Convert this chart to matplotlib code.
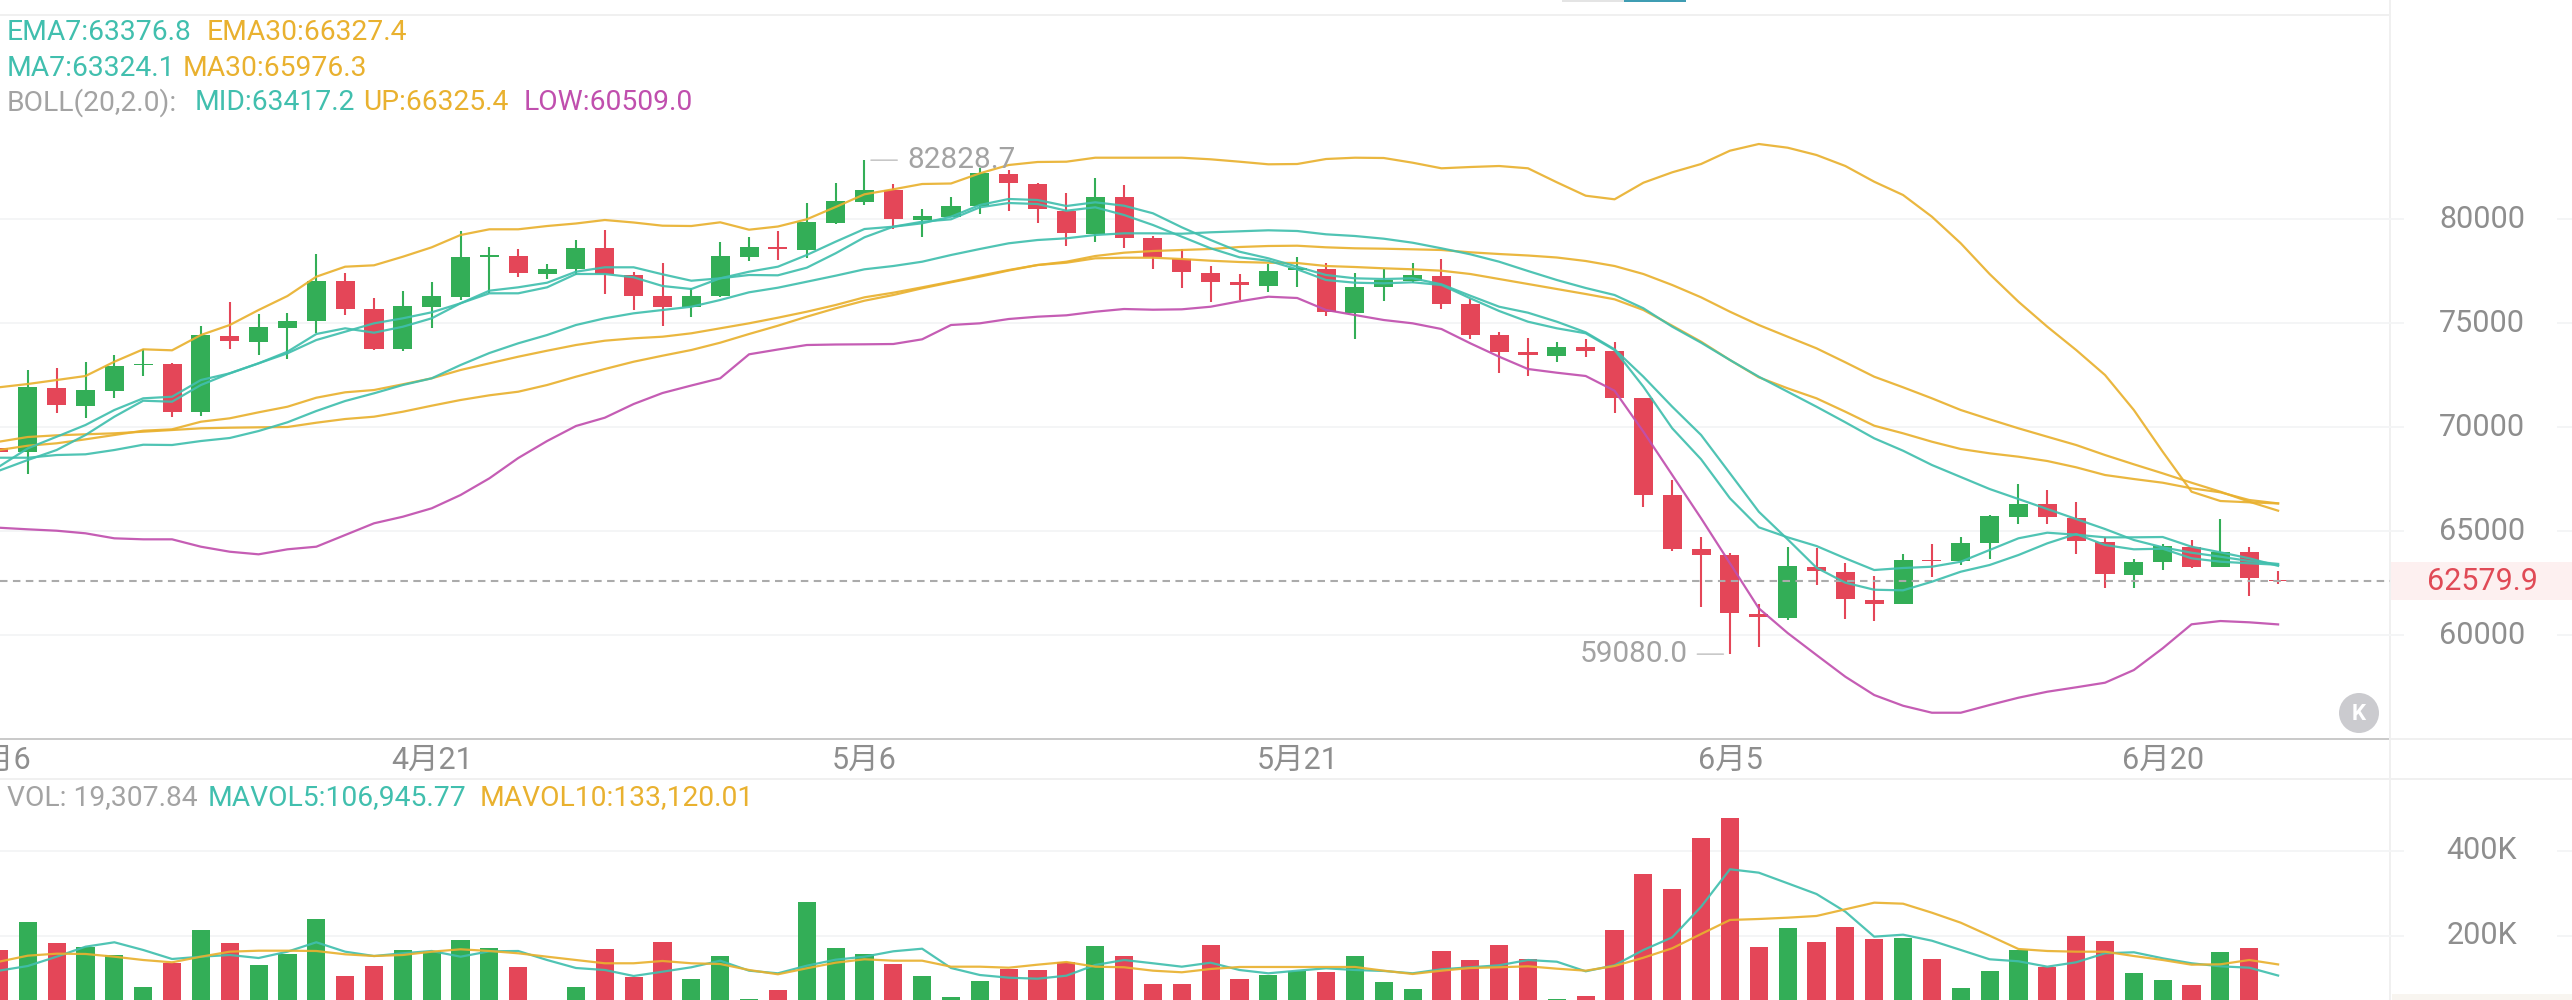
import matplotlib
matplotlib.use("Agg")
import matplotlib.pyplot as plt
from matplotlib.lines import Line2D
from matplotlib.patches import Rectangle, Circle

W, H = 2572, 1000

plt.rcParams["font.family"] = ["Roboto", "Noto Sans CJK SC", "DejaVu Sans"]

date_pos = [0, 15, 30, 45, 60, 75]
date_labels = ["4月6", "4月21", "5月6", "5月21", "6月5", "6月20"]

price_ticks = [80000, 75000, 70000, 65000, 60000]
volume_ticks = [400000, 200000]
volume_tick_labels = ["400K", "200K"]

last_price = 62579.9
high_price = 82828.7
low_price = 59080.0

opens = [68990, 68810, 71890, 71024, 71730, 72966, 73014, 70706, 74375, 74101,
         74774, 75110, 77019, 75658, 73735, 75783, 76264, 78173, 78221, 77370,
         77582, 78606, 77322, 76298, 75755, 76312, 78187, 78639, 78510, 79822,
         80841, 81380, 79952, 80111, 80625, 82164, 81683, 80385, 79293, 81043,
         79072, 78062, 77418, 76957, 76793, 77548, 77582, 75495, 76716, 77034,
         77260, 75899, 74408, 73591, 73428, 73860, 73654, 71380, 66730, 64120,
         63845, 61000, 60831, 63283, 63043, 61682, 61475, 63620, 63543, 64408,
         65687, 66283, 65625, 64456, 62899, 63510, 64245, 63283, 63975, 62650]
closes = [68800, 71910, 71057, 71778, 72932, 73053, 70721, 74408, 74120, 74793,
          75110, 77033, 75673, 73750, 75817, 76298, 78159, 78269, 77418, 77596,
          78620, 77356, 76312, 75769, 76312, 78207, 78668, 78543, 79841, 80880,
          81394, 79986, 80159, 80639, 82197, 81716, 80466, 79312, 81058, 79087,
          78159, 77452, 76971, 76812, 77514, 77630, 75529, 76731, 77067, 77293,
          75928, 74437, 73606, 73447, 73860, 73668, 71408, 66745, 64134, 63860,
          61043, 60865, 63317, 63062, 61716, 61505, 63605, 63557, 64423, 65721,
          66283, 65658, 64505, 62947, 63510, 64264, 63283, 63990, 62725, 62579.9]
highs = [69300, 72740, 72850, 73125, 73447, 73764, 73091, 74855, 76009, 75418,
         75495, 78303, 77389, 76187, 76538, 76985, 79437, 78639, 78543, 77836,
         78990, 79457, 77437, 77870, 76668, 78880, 79135, 79423, 80755, 81731,
         82828.7, 81668, 80466, 81043, 82438, 82356, 81745, 81264, 81986, 81620,
         79183, 78543, 77740, 77370, 77822, 78159, 77870, 77418, 77582, 77870,
         78077, 76154, 74567, 74293, 74101, 74230, 74072, 71380, 67452, 64725,
         63927, 61490, 64216, 64168, 63475, 62836, 63893, 64360, 64725, 65769,
         67259, 66956, 66408, 64725, 63639, 64360, 64567, 65576, 64216, 63060]
lows = [68500, 67725, 70687, 70447, 71394, 72466, 70466, 70528, 73764, 73461,
        73269, 74505, 75384, 73702, 73668, 74774, 76106, 76428, 77226, 77115,
        77308, 76408, 75639, 74870, 75288, 76264, 77995, 78029, 78139, 79774,
        80659, 79505, 79149, 80082, 80240, 80399, 79822, 78716, 78880, 78620,
        77610, 76683, 76024, 76106, 76505, 76716, 75336, 74216, 76072, 76937,
        75658, 74230, 72596, 72452, 73139, 73351, 70658, 66168, 64053, 61360,
        59080, 59437, 60720, 62404, 60768, 60687, 61475, 62802, 63380, 63668,
        65336, 65336, 63894, 62245, 62245, 63139, 63235, 63283, 61889, 62437]

boll_up = [71909, 72067, 72259, 72452, 73139, 73735, 73687, 74423, 74904, 75625,
           76298, 77226, 77707, 77774, 78187, 78639, 79231, 79505, 79505, 79663,
           79784, 79952, 79832, 79678, 79663, 79841, 79486, 79639, 79986, 80577,
           81188, 81428, 81683, 81707, 82197, 82596, 82741, 82755, 82947, 82947,
           82947, 82947, 82870, 82755, 82630, 82644, 82885, 82947, 82933, 82707,
           82438, 82500, 82548, 82438, 81764, 81120, 80947, 81745, 82245, 82644,
           83284, 83606, 83428, 83077, 82548, 81793, 81154, 80111, 78832, 77356,
           76024, 74822, 73702, 72500, 70817, 68812, 66889, 66442, 66379, 66325.4]
boll_mid = [68523, 68523, 68653, 68687, 68894, 69148, 69134, 69326, 69471, 69807,
            70226, 70769, 71250, 71620, 72019, 72341, 72980, 73557, 74024, 74423,
            74904, 75226, 75466, 75625, 75783, 76106, 76476, 76697, 76985, 77274,
            77582, 77740, 77947, 78269, 78558, 78832, 78990, 79072, 79231, 79312,
            79312, 79293, 79361, 79409, 79457, 79423, 79264, 79183, 79053, 78860,
            78591, 78303, 77947, 77500, 77067, 76683, 76346, 75707, 74822, 74053,
            73221, 72418, 71697, 70975, 70226, 69456, 68860, 68173, 67596, 67019,
            66538, 66057, 65576, 65096, 64567, 64216, 63956, 63764, 63557, 63417.2]
boll_low = [65158, 65081, 65014, 64889, 64648, 64600, 64600, 64245, 64004, 63879,
            64120, 64245, 64807, 65370, 65687, 66091, 66730, 67533, 68509, 69326,
            70048, 70447, 71105, 71634, 71995, 72341, 73495, 73726, 73942, 73966,
            73976, 73990, 74216, 74904, 74985, 75192, 75303, 75370, 75543, 75673,
            75639, 75658, 75783, 76043, 76264, 76202, 75625, 75384, 75144, 74985,
            74711, 74024, 73380, 72788, 72610, 72452, 71745, 69774, 67692, 65610,
            63447, 61283, 60095, 59038, 57994, 57114, 56599, 56263, 56263, 56634,
            56985, 57273, 57485, 57706, 58316, 59360, 60514, 60672, 60610, 60509.0]
ma7 = [67898, 68413, 68894, 69615, 70495, 71264, 71216, 72019, 72581, 73062,
       73620, 74471, 74745, 74533, 74822, 75226, 75947, 76428, 76428, 76716,
       77356, 77356, 77197, 76779, 76634, 77149, 77308, 77293, 77659, 78351,
       79120, 79630, 79870, 79986, 80562, 80769, 80721, 80399, 80562, 80192,
       79712, 79149, 78591, 78159, 77995, 77582, 77067, 76937, 76908, 76957,
       76827, 76187, 75577, 75062, 74745, 74505, 73702, 71937, 69937, 68447,
       66572, 65178, 64696, 64278, 63687, 63124, 63221, 63283, 63524, 64086,
       64649, 64918, 64822, 64696, 64696, 64711, 64245, 63976, 63687, 63324.1]
ema7 = [68091, 68975, 69533, 70096, 70817, 71379, 71456, 72259, 72581, 73062,
        73543, 74182, 74581, 74985, 75226, 75514, 75947, 76553, 76716, 76937,
        77466, 77678, 77678, 77341, 77033, 77149, 77466, 77707, 78269, 78909,
        79519, 79630, 79793, 80111, 80673, 80962, 80914, 80625, 80803, 80639,
        80274, 79601, 78990, 78428, 78110, 77707, 77308, 77149, 77115, 77149,
        76860, 76312, 75783, 75495, 75062, 74553, 73735, 72418, 70975, 69615,
        67773, 65927, 64600, 63235, 62514, 62177, 62148, 62562, 63043, 63365,
        63845, 64408, 64855, 64326, 64120, 64149, 63687, 63524, 63447, 63376.8]
ma30 = [69293, 69519, 69600, 69649, 69697, 69774, 69855, 69937, 69966, 69985,
        70000, 70206, 70384, 70495, 70735, 71024, 71298, 71524, 71697, 72019,
        72418, 72788, 73139, 73428, 73702, 74053, 74471, 74870, 75303, 75707,
        76072, 76346, 76668, 76957, 77226, 77524, 77788, 77947, 78221, 78380,
        78461, 78510, 78558, 78654, 78702, 78716, 78639, 78591, 78572, 78543,
        78510, 78399, 78317, 78245, 78149, 77981, 77740, 77356, 76827, 76235,
        75543, 74904, 74341, 73783, 73110, 72418, 71909, 71379, 70817, 70370,
        69937, 69533, 69134, 68653, 68206, 67773, 67321, 66889, 66408, 65976.3]
ema30 = [68894, 69100, 69216, 69408, 69615, 69822, 69889, 70254, 70418, 70706,
         70975, 71408, 71668, 71778, 72053, 72341, 72740, 73062, 73380, 73668,
         73942, 74149, 74264, 74341, 74505, 74745, 74985, 75255, 75543, 75865,
         76235, 76457, 76716, 76985, 77274, 77548, 77788, 77899, 78110, 78139,
         78139, 78077, 77995, 77933, 77899, 77884, 77740, 77692, 77630, 77582,
         77514, 77356, 77115, 76875, 76634, 76394, 76139, 75625, 74870, 74101,
         73221, 72389, 71860, 71379, 70735, 70062, 69697, 69293, 68942, 68735,
         68572, 68365, 68062, 67692, 67499, 67321, 67052, 66860, 66490, 66327.4]

volumes = [167100, 232900, 183500, 174800, 156000, 80000, 135800, 213400, 183500, 131000,
           158400, 239300, 105900, 129400, 166400, 164700, 190600, 171800, 127800, 37600,
           80000, 169400, 104200, 186600, 99500, 152900, 51000, 72200, 280000, 171100,
           157600, 134100, 106600, 56500, 94800, 122400, 120700, 138800, 175800, 153700,
           86400, 86400, 178100, 98800, 108200, 116900, 116000, 152900, 91100, 76000,
           164700, 144200, 178800, 145900, 52500, 58100, 213400, 345900, 310600, 430600,
           477700, 174100, 218100, 185200, 221200, 192900, 194600, 145900, 76900, 116900,
           167100, 127800, 199300, 187500, 112200, 96600, 84700, 162400, 172500, 19307.84]
mavol5 = [118350, 129400, 151300, 174800, 185200, 167100, 145900, 151300, 155300, 148200,
          163100, 185200, 163100, 152900, 159300, 164700, 151300, 164000, 164700, 143500,
          124700, 120000, 105900, 116000, 126400, 141900, 118400, 112200, 130100, 144200,
          151300, 164000, 170100, 124700, 108200, 101900, 99500, 106600, 131800, 143500,
          135800, 127800, 137200, 120000, 112200, 118400, 124000, 120000, 117700, 112200,
          121700, 126400, 131100, 143500, 139500, 116900, 131100, 167100, 196900, 268900,
          357000, 349000, 324000, 298800, 257200, 198400, 203100, 188900, 167100, 145200,
          140500, 127800, 138100, 159300, 161700, 147500, 135800, 128700, 125400, 106945.77]
mavol10 = [139500, 153700, 158400, 157700, 151300, 143500, 138100, 151300, 163100, 165400,
           165400, 164700, 156900, 152900, 155300, 163100, 168700, 164700, 159300, 151300,
           143500, 135800, 135800, 141200, 135800, 134100, 120000, 109900, 124000, 137200,
           145200, 141900, 141900, 127800, 127800, 125400, 132500, 138800, 127800, 126400,
           118400, 114600, 122400, 127100, 127100, 127100, 127100, 127100, 118400, 110600,
           118400, 124700, 126400, 128700, 123100, 118400, 129400, 148900, 171100, 204700,
           237700, 240000, 243100, 247100, 262800, 278400, 276000, 254800, 231300, 200700,
           169400, 164700, 163100, 163100, 152900, 143500, 132500, 133400, 143500, 133120.01]

GREEN = "#33ae57"
RED = "#e44658"
TEAL = "#41bfae"
GOLD = "#e9b12f"
PURPLE = "#c04fae"
GRAY = "#a3a3a3"
AXIS_GRAY = "#8e8e8e"
GRID = "#f4f5f6"
SEP = "#f0f0f0"
FS = 20.3
MARK_FS = 21.4
TICK_FS = 22
LINE_W = 1.6

fig = plt.figure(figsize=(W / 100, H / 100), dpi=100, facecolor="white")


def px(x, y):
    return x / W, 1 - y / H


def sheet_text(x, y, s, color, size=FS, ha="left"):
    fig.text(*px(x, y), s, color=color, fontsize=size, ha=ha, va="center")


def sheet_line(x0, y0, x1, y1, color, lw=1.4):
    a = px(x0, y0)
    b = px(x1, y1)
    fig.add_artist(Line2D([a[0], b[0]], [a[1], b[1]], color=color, lw=lw,
                          transform=fig.transFigure, zorder=0))


def sheet_box(x0, y0, x1, y1, color):
    fig.add_artist(Rectangle(px(x0, y1), (x1 - x0) / W, (y1 - y0) / H, color=color,
                             lw=0, transform=fig.transFigure, zorder=0))


# candle index 0 sits just left of the sheet, slots are 28.85 px wide
xlim = (1.05 / 28.85, (W + 1.05) / 28.85)
xs = list(range(len(opens)))

ax = fig.add_axes([0, (H - 739) / H, 1, 724 / H])
ax.set_xlim(*xlim)
ax.set_ylim(55000, 89808)
ax.axis("off")

vol = fig.add_axes([0, 0, 1, 221 / H])
vol.set_xlim(*xlim)
vol.set_ylim(49400, 569400)
vol.axis("off")

# panel frame and the pink band behind the last price
sheet_line(0, 15, 2390, 15, SEP)
sheet_line(0, 739, 2390, 739, "#c9c9c9")
sheet_line(2390, 739, W, 739, SEP)
sheet_line(0, 779, W, 779, SEP)
sheet_line(2390, 0, 2390, H, SEP)
sheet_box(2392, 994, W, H, "#f8f5f0")
sheet_box(2391, 562, W, 600, "#fdf0f0")
sheet_box(1562, 0, 1624, 2, "#e4e4e4")
sheet_box(1624, 0, 1686, 2, "#3f9db3")

# horizontal grid, broken around the tick labels on the right
for a, ticks in ((ax, price_ticks), (vol, volume_ticks)):
    tr = a.get_yaxis_transform()
    for v in ticks:
        a.plot([0, 2403 / W], [v, v], color=GRID, lw=1.4, transform=tr, zorder=1)
        a.plot([2558 / W, 1], [v, v], color=GRID, lw=1.4, transform=tr, zorder=1)

# candles
colors = [GREEN if c >= o else RED for o, c in zip(opens, closes)]
ax.vlines(xs, lows, highs, colors=colors, lw=1.5, zorder=2)
ax.bar(xs, [abs(c - o) for o, c in zip(opens, closes)],
       bottom=[min(o, c) for o, c in zip(opens, closes)],
       width=0.66, color=colors, lw=0, zorder=3)

ax.plot([0, 2390 / W], [last_price, last_price], color="#ababab", lw=1.5,
        dashes=(3.6, 2.6), transform=ax.get_yaxis_transform(), zorder=4)

# indicator lines
for series, col in ((boll_up, GOLD), (ma30, GOLD), (ema30, GOLD),
                    (boll_mid, TEAL), (ma7, TEAL), (ema7, TEAL), (boll_low, PURPLE)):
    ax.plot(xs, series, color=col, lw=LINE_W, alpha=0.92, zorder=5)

# extreme price markers
ax.annotate(f"{high_price:.1f}", xy=(30, high_price), xytext=(30.6, 0),
            textcoords="offset points", color=GRAY, fontsize=MARK_FS, va="center", ha="left",
            zorder=6, arrowprops=dict(arrowstyle="-", color="#c4c4c4", lw=1.1,
                                      relpos=(0, 0.5), shrinkA=5, shrinkB=4.7))
ax.annotate(f"{low_price:.1f}", xy=(60, low_price), xytext=(-30.5, 0),
            textcoords="offset points", color=GRAY, fontsize=MARK_FS, va="center", ha="right",
            zorder=6, arrowprops=dict(arrowstyle="-", color="#c4c4c4", lw=1.1,
                                      relpos=(1, 0.5), shrinkA=5, shrinkB=4.7))

# volume panel
vol.bar(xs, volumes, width=0.63, color=colors, lw=0, zorder=3)
vol.plot(xs, mavol5, color=TEAL, lw=LINE_W, alpha=0.92, zorder=5)
vol.plot(xs, mavol10, color=GOLD, lw=LINE_W, alpha=0.92, zorder=6)

# right side labels
tr = ax.get_yaxis_transform()
for v in price_ticks:
    ax.text(2482 / W, v, str(v), color=AXIS_GRAY, fontsize=TICK_FS, ha="center", va="center",
            transform=tr)
ax.text(2482 / W, last_price, f"{last_price:.1f}", color="#e04a56", fontsize=TICK_FS,
        ha="center", va="center", transform=tr)
tr = vol.get_yaxis_transform()
for v, lab in zip(volume_ticks, volume_tick_labels):
    vol.text(2482 / W, v, lab, color=AXIS_GRAY, fontsize=TICK_FS, ha="center", va="center",
             transform=tr)

# date labels sit in the strip between the panels
for i, lab in zip(date_pos, date_labels):
    ax.annotate(lab, xy=(i, 0), xycoords=("data", "figure fraction"),
                xytext=(i, px(0, 760)[1]), textcoords=("data", "figure fraction"),
                color=AXIS_GRAY, fontsize=TICK_FS, ha="center", va="center",
                annotation_clip=False)

# chart-to-candle toggle button
bx = fig.add_axes([2339 / W, (H - 733) / H, 40 / W, 40 / H])
bx.set_xlim(-1, 1)
bx.set_ylim(-1, 1)
bx.axis("off")
bx.add_patch(Circle((0, 0), 1, color="#cbcbcf", lw=0))
bx.text(0, -0.03, "K", color="white", fontsize=16, fontweight="bold", ha="center", va="center")

# indicator readouts
sheet_text(7, 33, "EMA7:63376.8", TEAL)
sheet_text(207, 33, "EMA30:66327.4", GOLD)
sheet_text(7, 68, "MA7:63324.1", TEAL)
sheet_text(183, 68, "MA30:65976.3", GOLD)
sheet_text(7, 103, "BOLL(20,2.0):", GRAY)
sheet_text(195, 103, "MID:63417.2", TEAL)
sheet_text(363, 103, "UP:66325.4", GOLD)
sheet_text(524, 103, "LOW:60509.0", PURPLE)
sheet_text(7, 798, "VOL: 19,307.84", GRAY)
sheet_text(208, 798, "MAVOL5:106,945.77", TEAL)
sheet_text(480, 798, "MAVOL10:133,120.01", GOLD)

fig.savefig("out.png", dpi=100, facecolor="white")
